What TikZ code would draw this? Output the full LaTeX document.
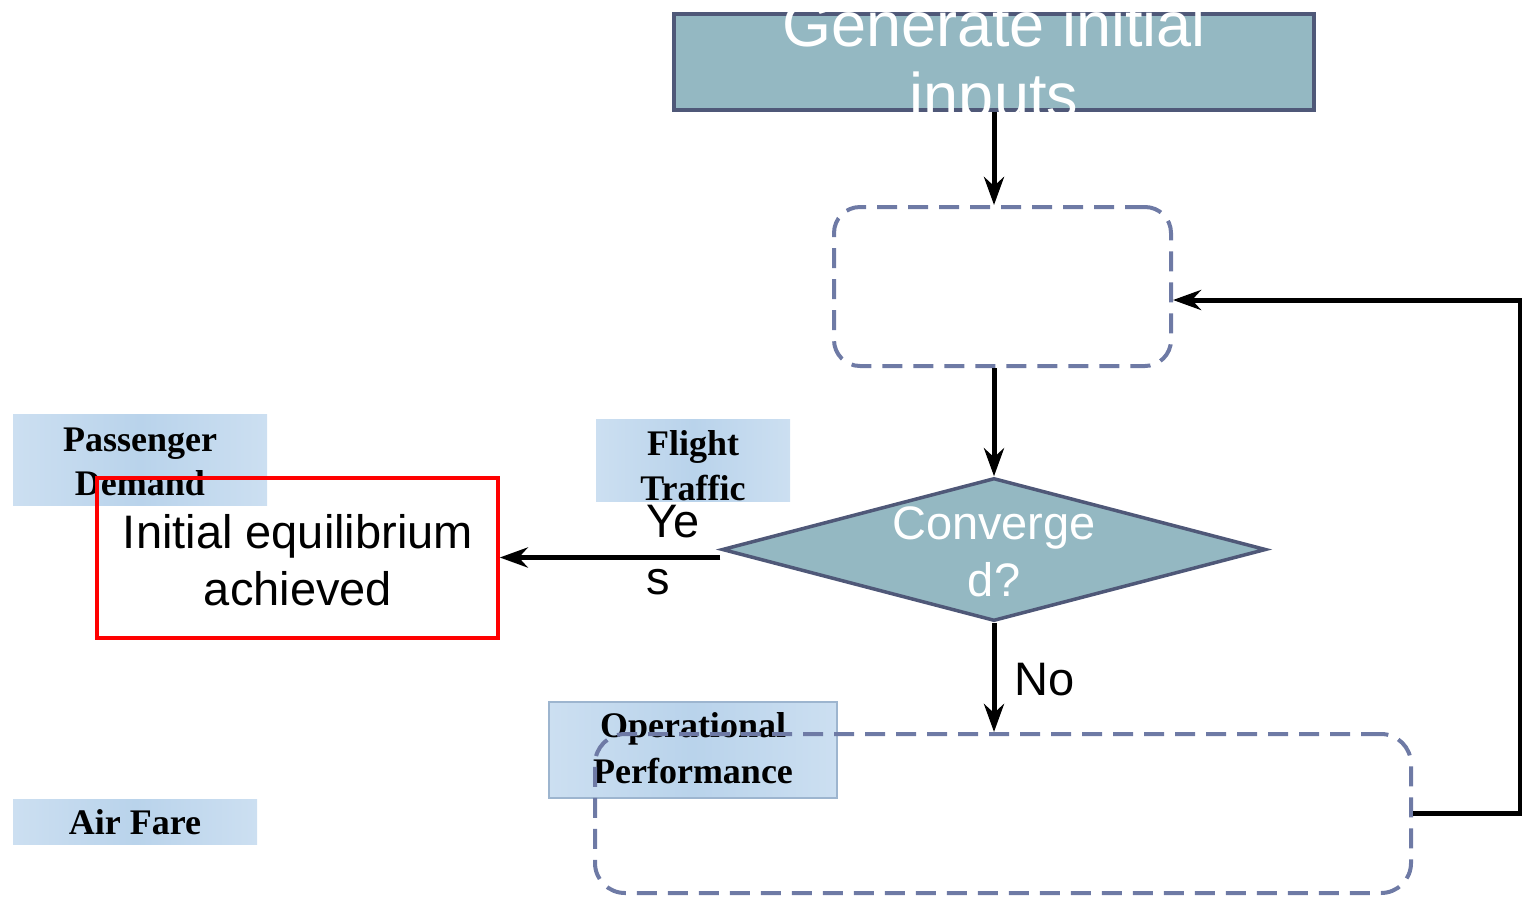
\documentclass[tikz,border=0pt]{standalone}
\usepackage{fontspec}
\setmainfont{Liberation Serif}
\newfontfamily\arialfont{Liberation Sans}
\usetikzlibrary{arrows.meta,shapes.geometric}
\definecolor{procfill}{HTML}{94B8C2}
\definecolor{procedge}{HTML}{4F5878}
\definecolor{dashedge}{HTML}{6E7AA5}
\definecolor{tagA}{HTML}{CCDFF1}
\definecolor{tagB}{HTML}{B9D3EB}
\definecolor{tagedge}{HTML}{9DB5CF}
\begin{document}
\begin{tikzpicture}[x=1pt,y=-1pt,
  proc/.style={draw=procedge, line width=4pt, fill=procfill, inner sep=0pt},
  dashbox/.style={draw=dashedge, line width=4pt, dash pattern=on 20pt off 11pt,
    rounded corners=26pt, inner sep=0pt},
  tag/.style={inner sep=0pt, left color=tagA, right color=tagA, middle color=tagB},
  tagtext/.style={font=\bfseries\fontsize{36}{40}\selectfont, anchor=base, inner sep=0pt},
  sanstext/.style={font=\arialfont\fontsize{47}{55}\selectfont, inner sep=0pt},
  bigtext/.style={font=\arialfont\fontsize{63}{72}\selectfont, anchor=base,
    inner sep=0pt, text=white},
  flow/.style={line width=5pt, -{Stealth[length=28pt,width=20pt,inset=9pt]}}]
\useasboundingbox (0,0) rectangle (1522,898);

% variable tags
\node[tag, minimum width=254, minimum height=91] (pax) at (140,459.5) {};
\node[tagtext] (paxA) at (140,451) {Passenger};
\node[tagtext] (paxB) at (140,495) {Demand};
\node[tag, minimum width=194, minimum height=82] (flt) at (693,460) {};
\node[tagtext] (fltA) at (693,455) {Flight};
\node[tagtext] (fltB) at (693,500) {Traffic};
\node[tag, draw=tagedge, line width=2pt, minimum width=288, minimum height=96] (opr) at (693,750) {};
\node[tagtext] (oprA) at (693,737) {Operational};
\node[tagtext] (oprB) at (693,783) {Performance};
\node[tag, minimum width=244, minimum height=45] (fare) at (135,821.5) {};
\node[tagtext] (fareA) at (135,834) {Air Fare};

% start box
\node[proc, minimum width=640, minimum height=96] (gen) at (994,62) {};
\begin{scope}
  \clip (gen.south west) rectangle (gen.north east);
  \node[bigtext] (genA) at (994,46) {Generate initial};
  \node[bigtext] (genB) at (994,117) {inputs};
\end{scope}

% process boxes
\node[dashbox, minimum width=337, minimum height=159] (upd) at (1002.5,286.5) {};
\node[dashbox, rounded corners=30pt, minimum width=816, minimum height=159] (eval) at (1003,813.5) {};

% decision
\node[shape=diamond, draw=procedge, line width=3.5pt, fill=procfill, inner sep=0pt,
  minimum width=544, minimum height=143] (dia) at (994,549.5) {};
\node[sanstext, anchor=base, text=white] (diaA) at (994,539) {Converge};
\node[sanstext, anchor=base, text=white] (diaB) at (994,596) {d?};

% result
\node[draw=red, line width=3.5pt, inner sep=0pt, minimum width=401, minimum height=160] (done) at (297.5,558) {};
\node[sanstext, anchor=base] (doneA) at (298,548) {Initial equilibrium};
\node[sanstext, anchor=base] (doneB) at (298,605) {achieved};

% connectors
\draw[flow] (gen.south) -- (gen.south |- upd.north);
\draw[flow] (gen.south |- upd.south) -- (dia.north);
\draw[flow] ([yshift=-8pt]dia.west) -- ([yshift=-8pt]dia.west -| done.east);
\draw[flow] (dia.south) -- (dia.south |- eval.north);
\draw[flow] (eval.east) -- ++(107,0) |- ([yshift=-13.5pt]upd.east);

% branch labels
\node[sanstext, anchor=base west] (yesA) at (646,537) {Ye};
\node[sanstext, anchor=base west] (yesB) at (646,594) {s};
\node[sanstext, anchor=base west] (no) at (1014,695) {No};
\end{tikzpicture}
\end{document}
